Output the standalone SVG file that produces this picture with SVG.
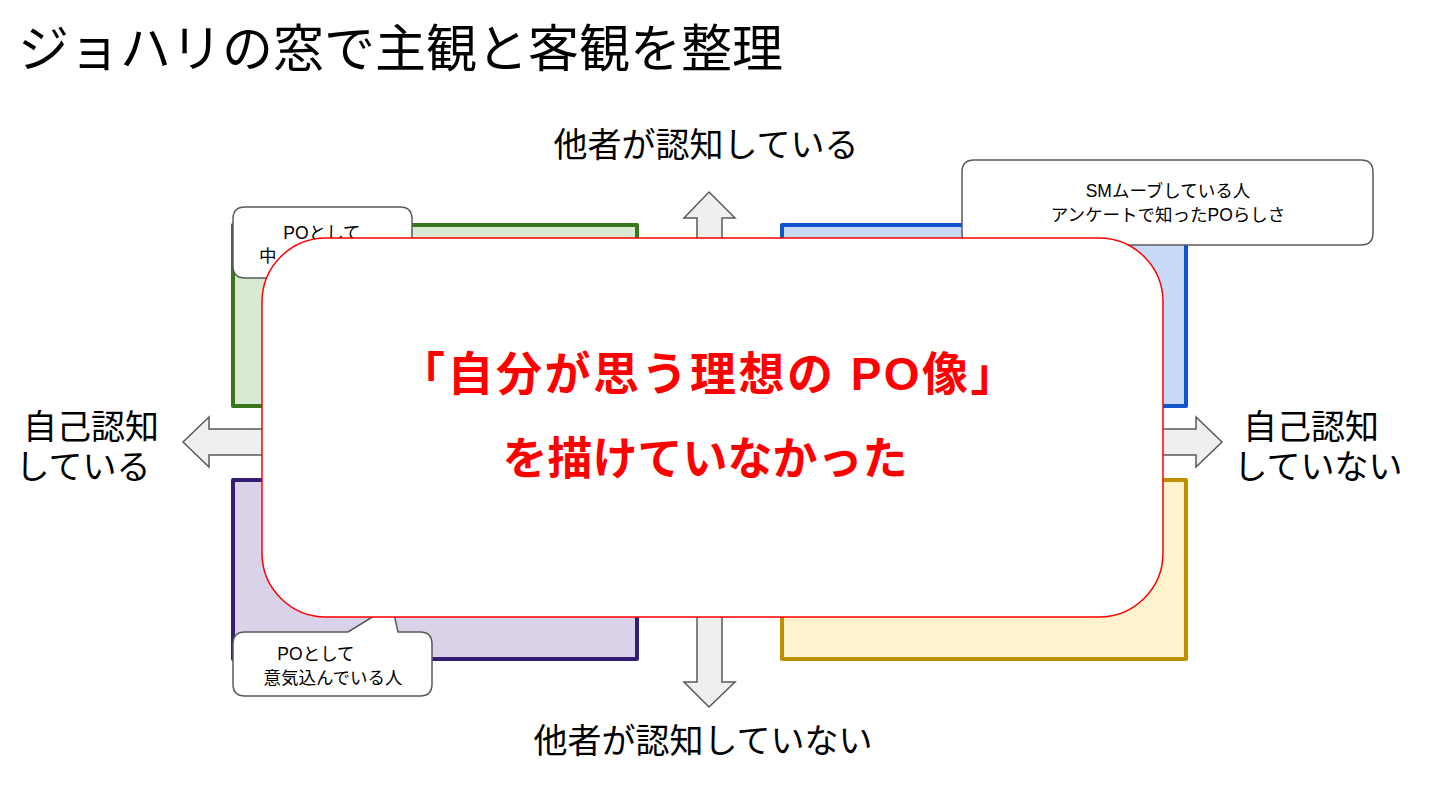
<svg xmlns="http://www.w3.org/2000/svg" width="1440" height="810" viewBox="0 0 1440 810">
<style>
text{font-family:"Liberation Sans","Noto Sans CJK JP",sans-serif;fill:#000}
.q{stroke-width:4;stroke-linejoin:round}
.arr{fill:#efefef;stroke:#595959;stroke-width:1.5;stroke-linejoin:miter}
.call{fill:#fff;stroke:#595959;stroke-width:1.5}
.lbl{font-size:34px}
.sm{font-size:17.5px}
.red{font-size:45px;font-weight:bold;fill:#ff0000}
</style>
<rect width="1440" height="810" fill="#fff"/>
<text x="18" y="67" style="font-size:51px">ジョハリの窓で主観と客観を整理</text>

<g id="q-open"><rect class="q" x="233" y="225" width="404" height="181" fill="#d9ead3" stroke="#38761d"/></g>
<g id="q-blind"><rect class="q" x="782" y="225" width="404" height="181" fill="#c9daf8" stroke="#1155cc"/></g>
<g id="q-hidden"><rect class="q" x="233" y="480" width="404" height="179" fill="#d9d2e9" stroke="#351c75"/></g>
<g id="q-unknown"><rect class="q" x="782" y="480" width="404" height="179" fill="#fff2cc" stroke="#bf9000"/></g>

<g id="connectors">
<path class="arr" d="M709,192 L735,218 L722,218 L722,330 L697,330 L697,218 L684,218 Z"/>
<path class="arr" d="M709,707 L735,682 L722,682 L722,560 L697,560 L697,682 L684,682 Z"/>
<path class="arr" d="M183,442 L209,417 L209,429 L330,429 L330,455 L209,455 L209,467 Z"/>
<path class="arr" d="M1222,442 L1196,417 L1196,429 L1100,429 L1100,455 L1196,455 L1196,467 Z"/>
</g>

<g id="label-top"><text class="lbl" x="706" y="157" text-anchor="middle">他者が認知している</text></g>
<g id="label-bottom"><text class="lbl" x="703" y="753" text-anchor="middle">他者が認知していない</text></g>
<g id="label-left"><text class="lbl" x="91" y="439" text-anchor="middle">自己認知</text><text class="lbl" x="83" y="479" text-anchor="middle">している</text></g>
<g id="label-right"><text class="lbl" x="1311" y="439" text-anchor="middle">自己認知</text><text class="lbl" x="1318" y="479" text-anchor="middle">していない</text></g>

<g id="callout-tl">
<path class="call" d="M245,207 H400 Q412,207 412,219 V266 Q412,278 400,278 H245 Q233,278 233,266 V219 Q233,207 245,207 Z"/>
<text class="sm" x="322" y="239" text-anchor="middle">POとして</text>
<text class="sm" x="259" y="262">中</text>
</g>
<g id="callout-tr">
<path class="call" d="M974,160 H1361 Q1373,160 1373,172 V233 Q1373,245 1361,245 H974 Q962,245 962,233 V172 Q962,160 974,160 Z"/>
<text class="sm" x="1168" y="197" text-anchor="middle">SMムーブしている人</text>
<text class="sm" x="1168" y="221" text-anchor="middle">アンケートで知ったPOらしさ</text>
</g>
<g id="callout-bl">
<path class="call" d="M245,632 H348 L392,605 L398,632 H420 Q432,632 432,644 V684 Q432,696 420,696 H245 Q233,696 233,684 V644 Q233,632 245,632 Z"/>
<text class="sm" x="316" y="660" text-anchor="middle">POとして</text>
<text class="sm" x="333" y="684" text-anchor="middle">意気込んでいる人</text>
</g>

<g id="message">
<rect x="262" y="238" width="901" height="379" rx="64" ry="64" fill="#fff" stroke="#ff0000" stroke-width="1.5"/>
<text class="red" x="709" y="390" text-anchor="middle" style="font-size:46px;letter-spacing:2.5px">「自分が思う理想の PO像」</text>
<text class="red" x="705" y="475" text-anchor="middle">を描けていなかった</text>
</g>
</svg>
